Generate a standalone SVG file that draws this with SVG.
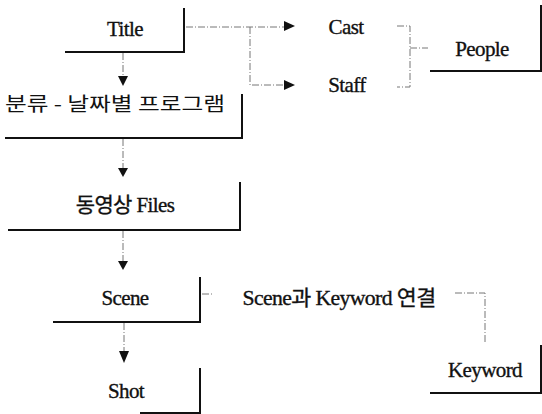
<svg xmlns="http://www.w3.org/2000/svg" width="542" height="414" viewBox="0 0 542 414">
<style>
.box{fill:none;stroke:#111;stroke-width:2}
.con{fill:none;stroke:#777;stroke-width:1;stroke-dasharray:7 2 1 2}
.head{fill:#111}
.t{font-family:"Liberation Serif","Times New Roman","Noto Sans CJK KR",serif;font-size:21px;fill:#111;stroke:#111;stroke-width:0.35;text-anchor:middle;letter-spacing:-0.6px}
.k{font-family:"Noto Sans CJK KR","Liberation Sans",sans-serif;font-size:19px;fill:#111;text-anchor:middle}
</style>
<rect width="542" height="414" fill="#fff"/>
<g id="connectors">
<path class="con" d="M123,53 V78"/>
<polygon class="head" points="118,76 128,76 123,86"/>
<path class="con" d="M186,27 H286 M250,27 V85 H286"/>
<polygon class="head" points="284,21 284,31 295,26"/>
<polygon class="head" points="284,80 284,90 295,85"/>
<path class="con" d="M397,26 H410 V87 H397 M410,48 H428"/>
<path class="con" d="M123,139 V170"/>
<polygon class="head" points="118,168 128,168 123,177"/>
<path class="con" d="M123,231 V262"/>
<polygon class="head" points="118,261 128,261 123,270"/>
<path class="con" d="M124,323 V352"/>
<polygon class="head" points="119,351 129,351 124,363"/>
<path class="con" d="M202,294 H214 M455,293 H485 V342"/>
</g>
<g id="title">
<path class="box" d="M65,52 H184 V8"/>
<text class="t" x="125" y="36">Title</text>
</g>
<g id="cast"><text class="t" x="346" y="34">Cast</text></g>
<g id="staff"><text class="t" x="347" y="92">Staff</text></g>
<g id="people">
<path class="box" d="M430,71 H541 V5"/>
<text class="t" x="482" y="56">People</text>
</g>
<g id="program">
<path class="box" d="M5,138 H242 V94"/>
<text class="k" x="115" y="111" textLength="220" lengthAdjust="spacingAndGlyphs">분류 - 날짜별 프로그램</text>
</g>
<g id="files">
<path class="box" d="M8,230 H240 V182"/>
<text class="t" x="125" y="212">동영상 Files</text>
</g>
<g id="scene">
<path class="box" d="M53,322 H200 V277"/>
<text class="t" x="125" y="305">Scene</text>
</g>
<g id="link-label"><text class="t" x="339" y="305" textLength="193" lengthAdjust="spacingAndGlyphs">Scene과 Keyword 연결</text></g>
<g id="keyword">
<path class="box" d="M430,393 H541 V345"/>
<text class="t" x="485" y="377">Keyword</text>
</g>
<g id="shot">
<path class="box" d="M140,413 H200 V368"/>
<text class="t" x="126" y="398">Shot</text>
</g>
</svg>
